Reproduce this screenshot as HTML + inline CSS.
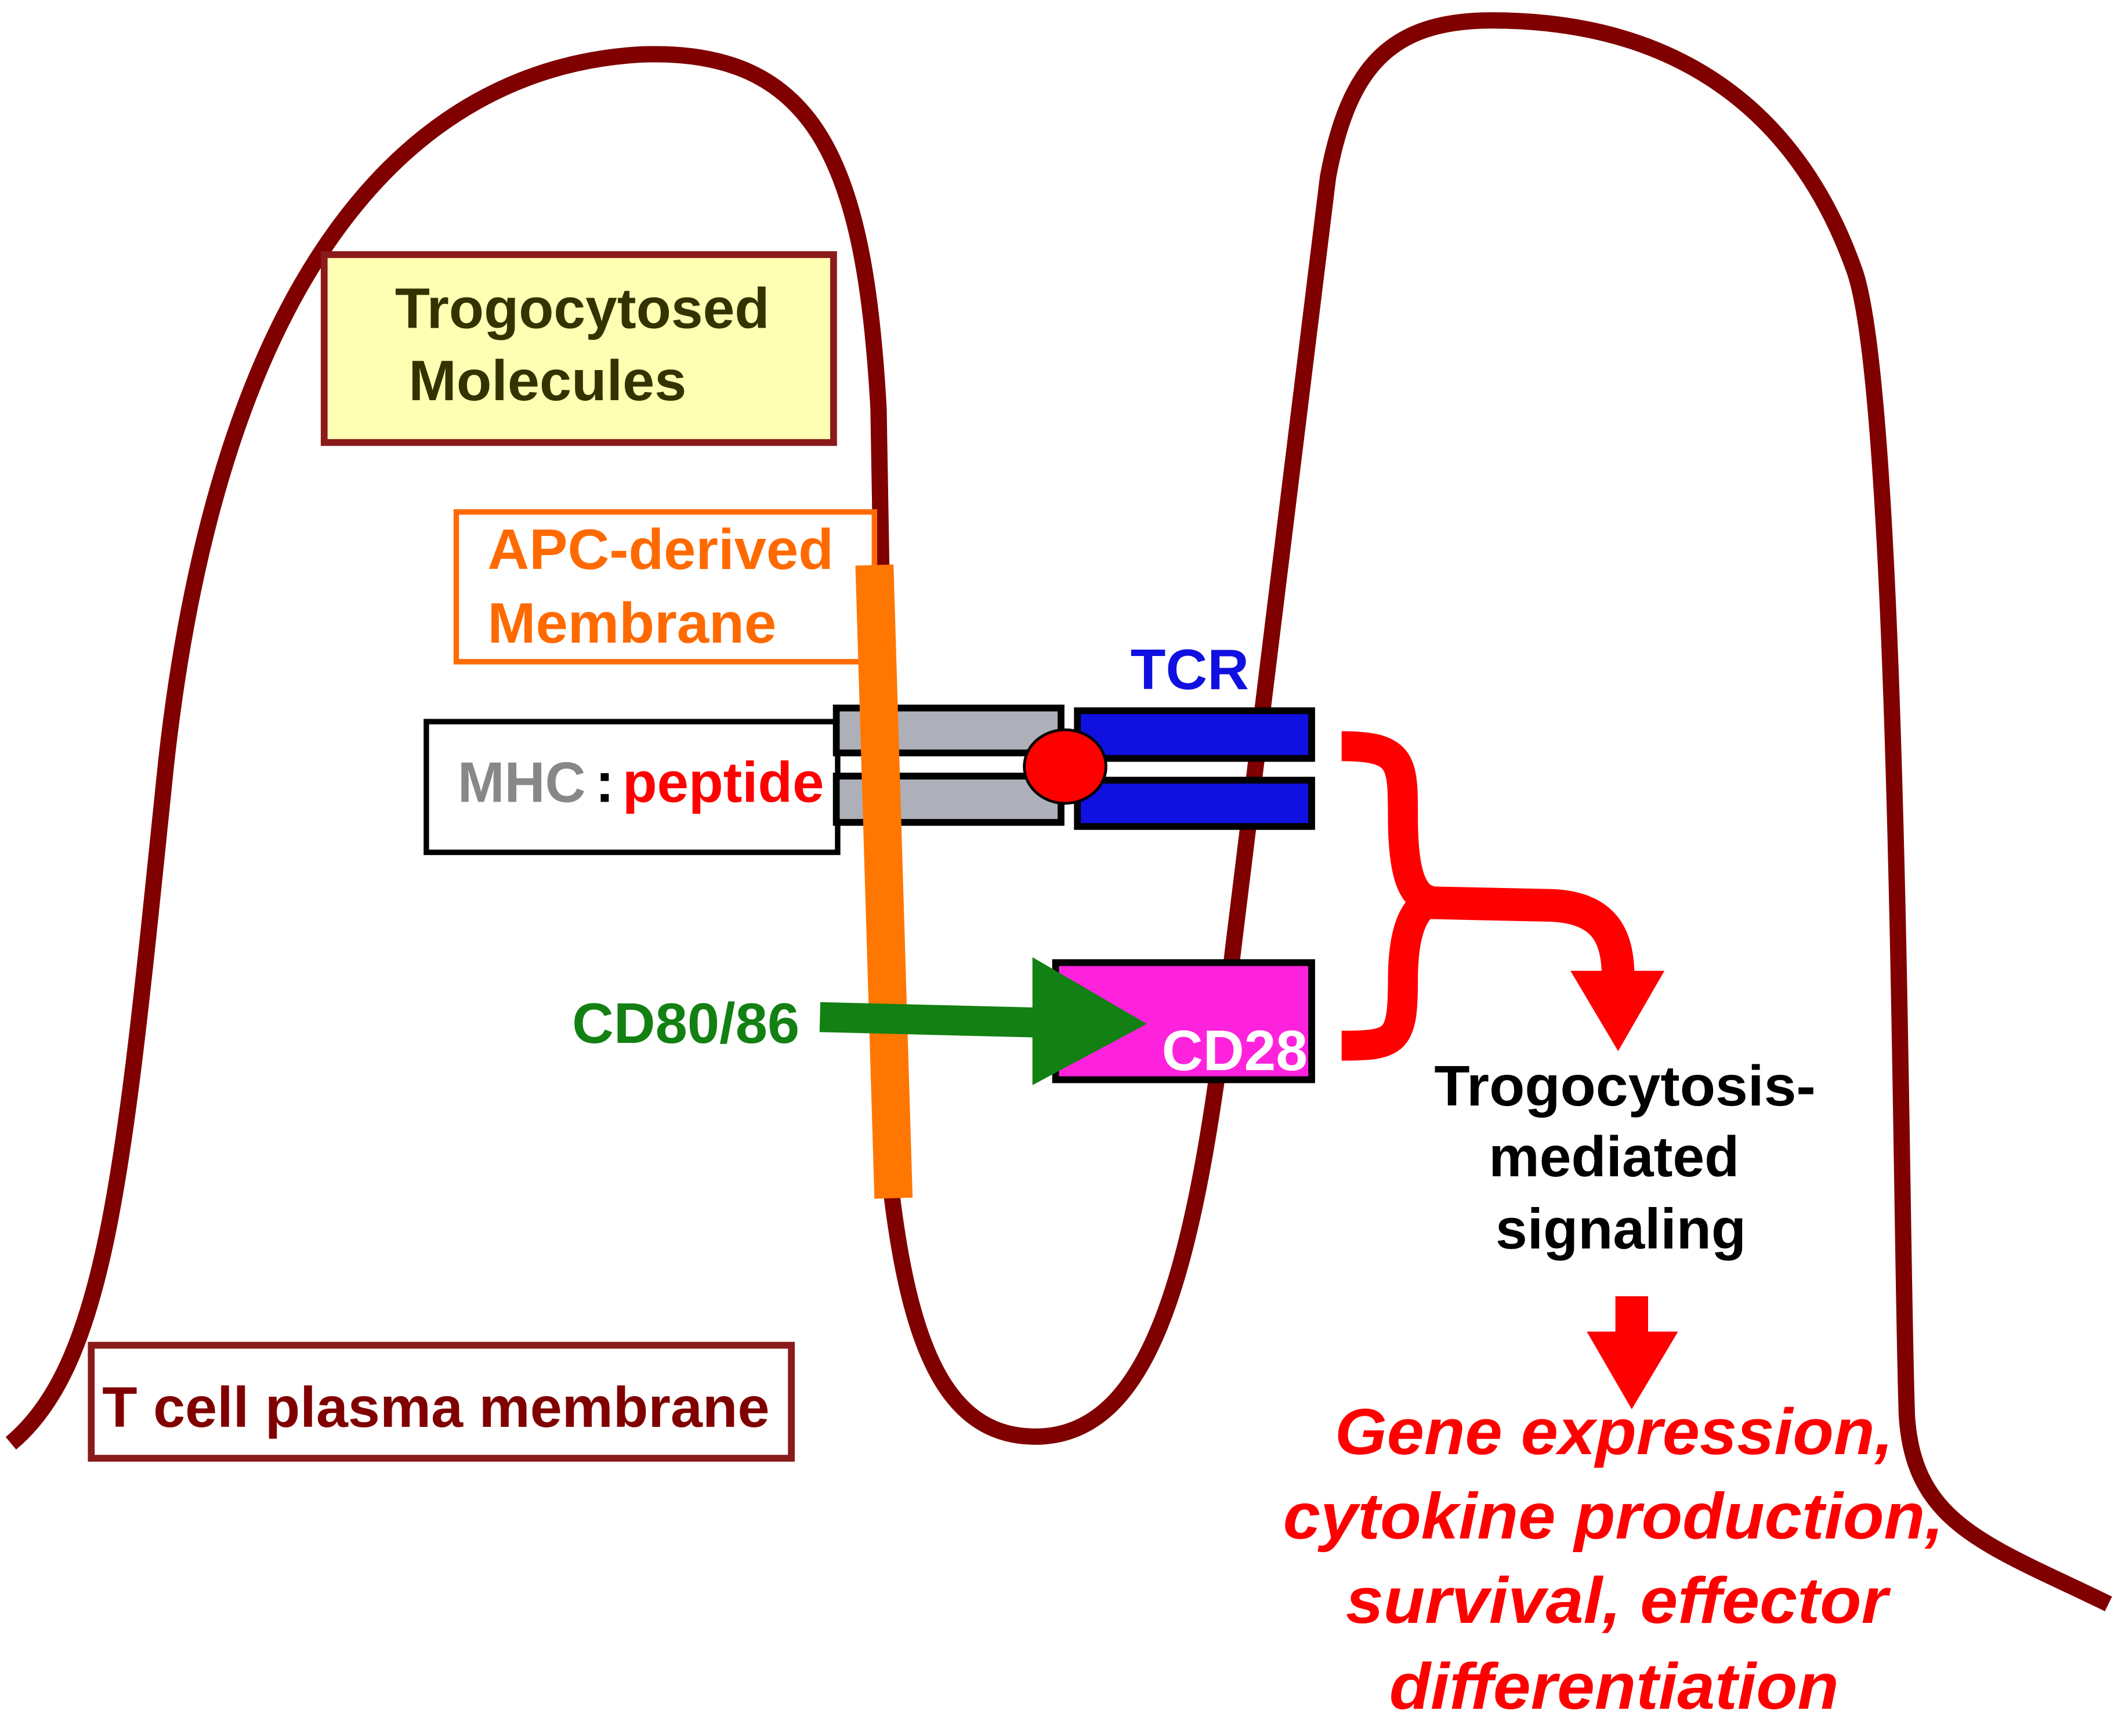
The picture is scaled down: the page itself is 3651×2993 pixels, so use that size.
<!DOCTYPE html>
<html><head><meta charset="utf-8"><style>html,body{margin:0;padding:0;background:#fff}svg{display:block}text{font-family:"Liberation Sans",sans-serif;font-weight:bold}</style></head>
<body>
<svg width="3651" height="2993" viewBox="0 0 1555 1275" preserveAspectRatio="none" xmlns="http://www.w3.org/2000/svg">
<rect width="1555" height="1275" fill="#fff"/>
<path d="M8,1060 C80,1000 92,850 122,560 C162,200 300,50 470,40 C600,35 635,120 645,300 L655,880 C670,1000 700,1058 765,1055 C850,1050 880,920 905,700 L975,130 C990,50 1020,15 1095,15 C1230,15 1320,80 1362,200 C1395,300 1395,900 1400,1040 C1405,1120 1460,1135 1548,1178" fill="none" stroke="#800000" stroke-width="12"/>
<rect x="238" y="187" width="374" height="138" fill="#ffffb3" stroke="#8b1a1a" stroke-width="5"/>
<text x="290" y="241" font-size="42" fill="#333300" textLength="275" lengthAdjust="spacingAndGlyphs">Trogocytosed</text>
<text x="300" y="294" font-size="42" fill="#333300" textLength="204" lengthAdjust="spacingAndGlyphs">Molecules</text>
<rect x="335" y="376" width="307" height="110" fill="#fff" stroke="#ff6a00" stroke-width="4"/>
<text x="358" y="418" font-size="42" fill="#ff6a00" textLength="254" lengthAdjust="spacingAndGlyphs">APC-derived</text>
<text x="358" y="472" font-size="42" fill="#ff6a00" textLength="212" lengthAdjust="spacingAndGlyphs">Membrane</text>
<rect x="313" y="530" width="302" height="96" fill="#fff" stroke="#000" stroke-width="4"/>
<text x="336" y="589" font-size="42" fill="#888" textLength="94" lengthAdjust="spacingAndGlyphs">MHC</text>
<text x="437" y="589" font-size="42" fill="#000">:</text>
<text x="457" y="589" font-size="42" fill="#ff0000" textLength="148" lengthAdjust="spacingAndGlyphs">peptide</text>
<rect x="614" y="520" width="165" height="33" fill="#adb0b8" stroke="#000" stroke-width="5"/>
<rect x="614" y="570" width="165" height="34" fill="#adb0b8" stroke="#000" stroke-width="5"/>
<line x1="642" y1="415" x2="656" y2="880" stroke="#ff7700" stroke-width="28"/>
<rect x="791" y="522" width="172" height="35" fill="#1010e0" stroke="#000" stroke-width="5"/>
<rect x="791" y="573" width="172" height="34" fill="#1010e0" stroke="#000" stroke-width="5"/>
<ellipse cx="782" cy="563" rx="30" ry="27" fill="#ff0000" stroke="#000" stroke-width="2"/>
<text x="830" y="506" font-size="42" fill="#1010e0" textLength="87" lengthAdjust="spacingAndGlyphs">TCR</text>
<rect x="775" y="707" width="188" height="86" fill="#ff22dd" stroke="#000" stroke-width="5"/>
<text x="853" y="786" font-size="42" fill="#fff" textLength="107" lengthAdjust="spacingAndGlyphs">CD28</text>
<line x1="602" y1="747" x2="762" y2="751" stroke="#128012" stroke-width="22"/>
<polygon points="758,703 842,752 758,797" fill="#128012"/>
<text x="420" y="766" font-size="42" fill="#128012" textLength="167" lengthAdjust="spacingAndGlyphs">CD80/86</text>
<path d="M985,548 C1030,548 1030,560 1030,600 C1030,650 1040,660 1052,662 C1040,664 1030,680 1030,720 C1030,765 1025,768 985,768" fill="none" stroke="#ff0000" stroke-width="22"/>
<path d="M1050,663 L1140,665 C1180,667 1188,690 1188,718" fill="none" stroke="#ff0000" stroke-width="24"/>
<polygon points="1153,713 1222,713 1188,772" fill="#ff0000"/>
<text x="1053" y="812" font-size="42" fill="#000" textLength="280" lengthAdjust="spacingAndGlyphs">Trogocytosis-</text>
<text x="1093" y="864" font-size="42" fill="#000" textLength="184" lengthAdjust="spacingAndGlyphs">mediated</text>
<text x="1098" y="917" font-size="42" fill="#000" textLength="184" lengthAdjust="spacingAndGlyphs">signaling</text>
<rect x="1186" y="952" width="24" height="30" fill="#ff0000"/>
<polygon points="1165,978 1232,978 1198,1035" fill="#ff0000"/>
<g font-size="48" font-style="italic" fill="#ff0000">
<text x="980" y="1068" textLength="410" lengthAdjust="spacingAndGlyphs">Gene expression,</text>
<text x="942" y="1130" textLength="485" lengthAdjust="spacingAndGlyphs">cytokine production,</text>
<text x="988" y="1192" textLength="398" lengthAdjust="spacingAndGlyphs">survival, effector</text>
<text x="1020" y="1255" textLength="330" lengthAdjust="spacingAndGlyphs">differentiation</text>
</g>
<rect x="67" y="988" width="514" height="83" fill="#fff" stroke="#8b1a1a" stroke-width="5"/>
<text x="75" y="1048" font-size="42" fill="#800000" textLength="490" lengthAdjust="spacingAndGlyphs">T cell plasma membrane</text>
</svg>
</body></html>
